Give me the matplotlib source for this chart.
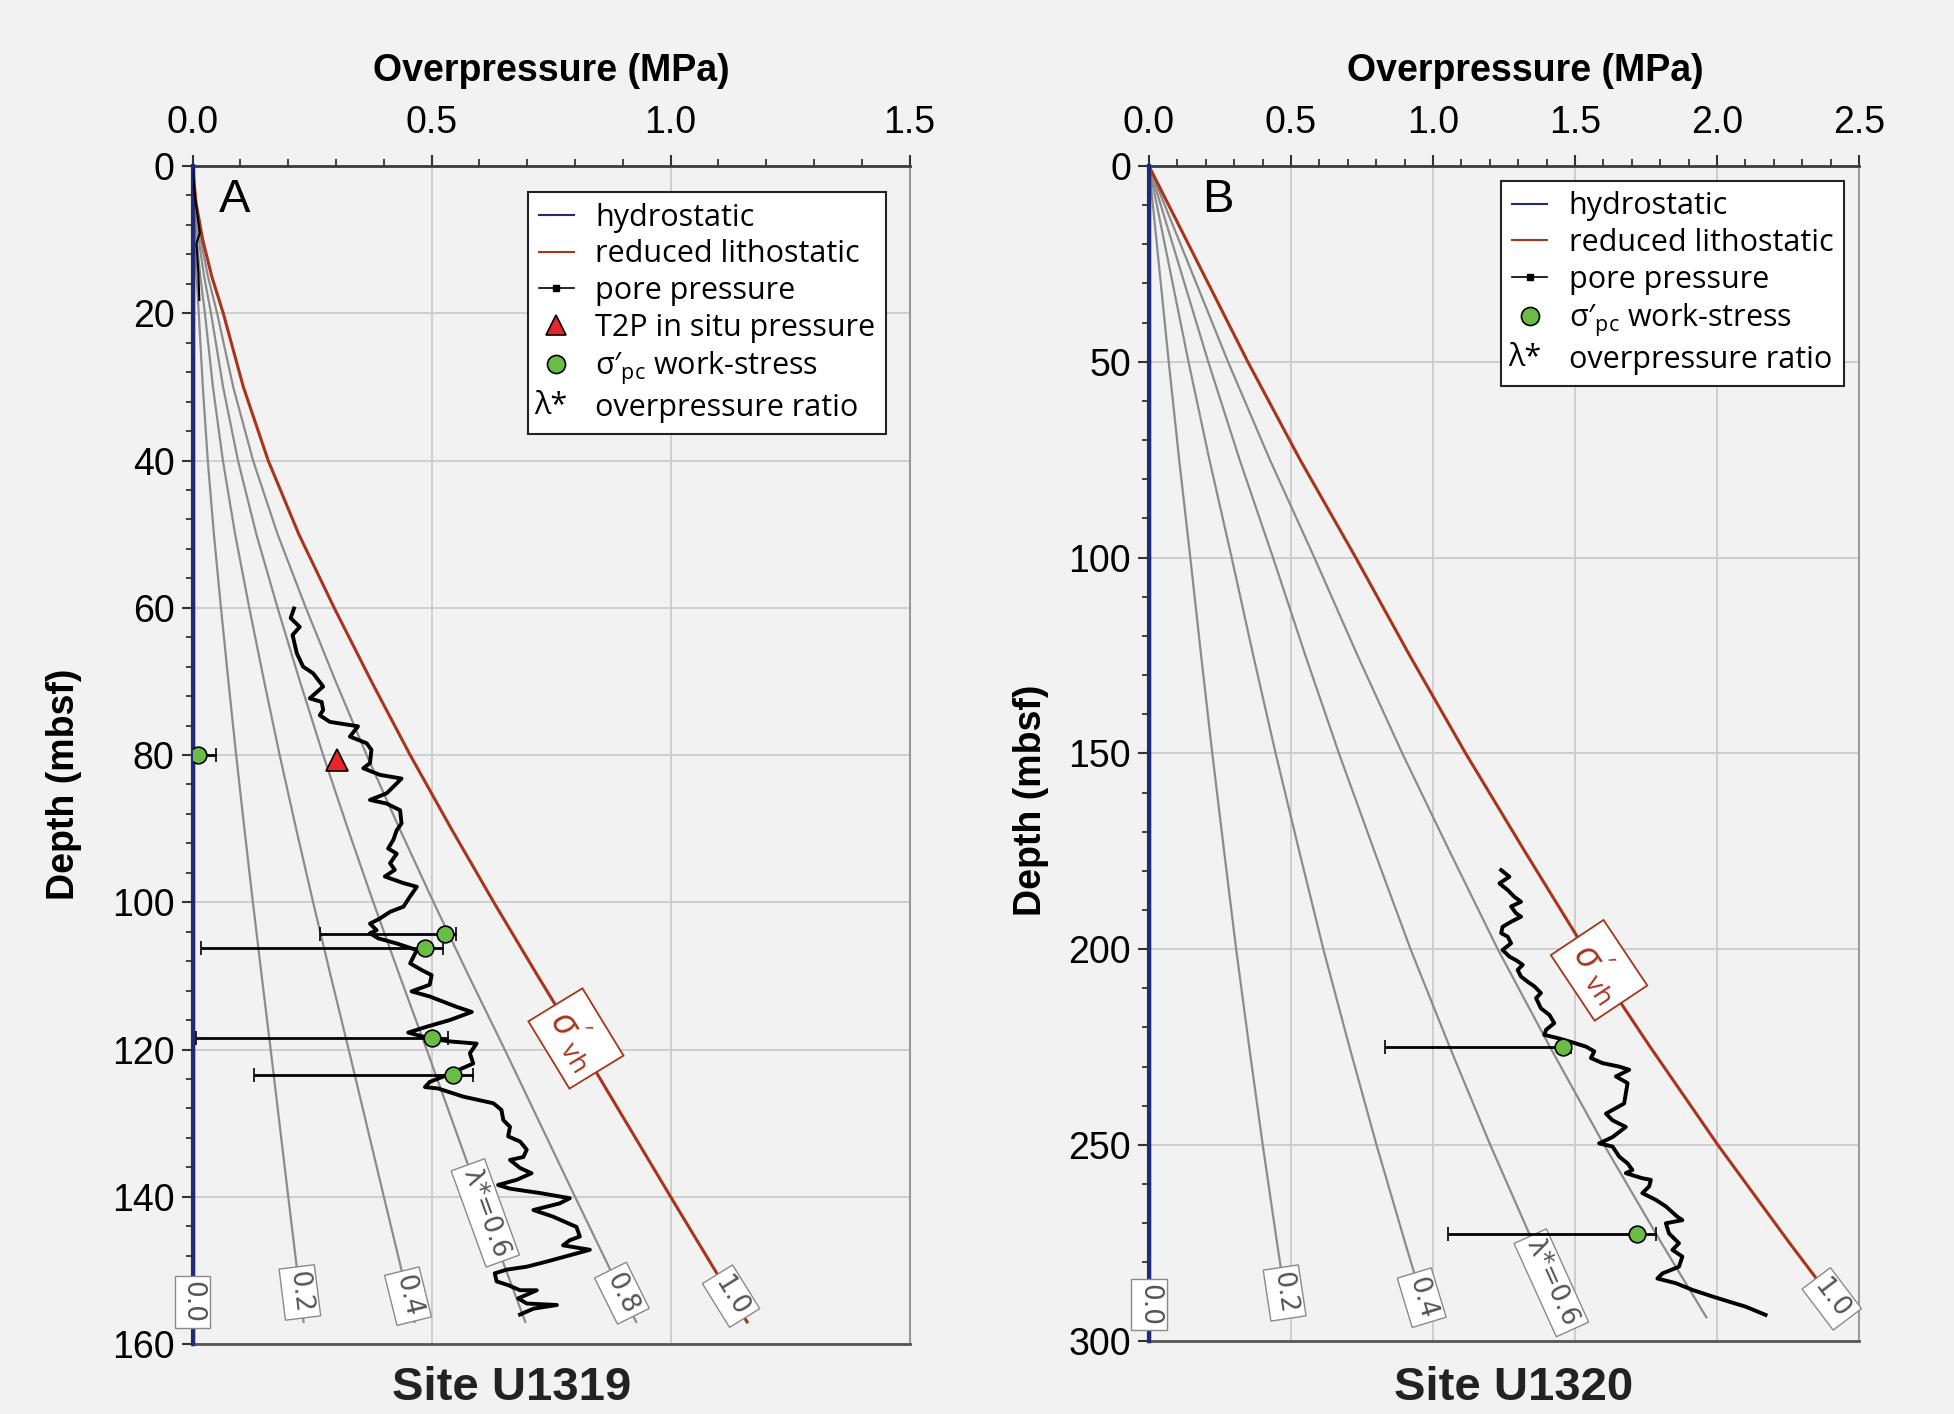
import numpy as np
import matplotlib
matplotlib.use("Agg")
import matplotlib.pyplot as plt
from matplotlib.lines import Line2D
from matplotlib.legend_handler import HandlerBase
from matplotlib.text import Text
from matplotlib.ticker import MultipleLocator, FormatStrFormatter

plt.rcParams['font.family'] = ['Liberation Sans', 'DejaVu Sans']
plt.rcParams['mathtext.fontset'] = 'custom'
plt.rcParams['mathtext.rm'] = 'Open Sans'
plt.rcParams['mathtext.it'] = 'Open Sans:italic'

# ---- Site U1319 (panel A) ----
litho_a_depth = [0, 5, 10, 15, 20, 30, 40, 50, 60, 70, 80, 90, 100, 110, 120, 130, 140, 150, 157]
litho_a_op = [0, 0.007, 0.021, 0.04, 0.064, 0.106, 0.158, 0.222, 0.296, 0.374, 0.455, 0.541,
              0.630, 0.722, 0.816, 0.908, 1.000, 1.093, 1.160]

pp_a0_depth = [0.5, 4.2, 9.1, 10.5, 14.6, 18.2]
pp_a0_op = [0.0, 0.005, 0.015, 0.008, 0.012, 0.014]

pp_a_depth = [60.1, 61.4, 62.6, 63.7, 66.2, 68.0, 68.9, 70.7, 72.3, 72.8,
              73.9, 74.6, 75.5, 75.9, 76.1, 77.5, 78.4, 79.3, 81.1, 81.8,
              82.7, 83.2, 84.3, 85.2, 86.1, 86.6, 87.5, 89.3, 90.2, 91.5,
              92.7, 93.4, 94.7, 95.6, 96.5, 97.4, 97.9, 99.2, 100.6, 101.3,
              102.2, 102.9, 103.8, 104.2, 104.9, 105.6, 106.5, 108.3, 109.2, 109.9,
              111.2, 112.1, 112.8, 114.2, 114.9, 116.0, 116.9, 117.7, 118.5, 118.9,
              119.2, 120.5, 121.9, 123.5, 124.4, 125.1, 125.3, 126.4, 127.3, 128.2,
              129.6, 130.5, 131.8, 132.5, 133.6, 134.6, 135.0, 136.1, 136.8, 137.7,
              138.4, 138.9, 139.5, 140.2, 140.9, 141.8, 142.7, 144.1, 145.4, 145.9,
              146.6, 147.2, 147.7, 148.8, 149.5, 149.9, 150.4, 151.5, 152.0, 152.7,
              152.7, 153.3, 153.8, 154.5, 154.7, 155.2, 156.0]
pp_a_op = [0.212, 0.205, 0.224, 0.209, 0.218, 0.231, 0.252, 0.273, 0.245, 0.270,
           0.273, 0.266, 0.287, 0.326, 0.346, 0.329, 0.364, 0.374, 0.371, 0.357,
           0.392, 0.437, 0.420, 0.406, 0.371, 0.406, 0.434, 0.437, 0.427, 0.420,
           0.409, 0.427, 0.413, 0.423, 0.402, 0.441, 0.469, 0.455, 0.441, 0.413,
           0.392, 0.371, 0.385, 0.371, 0.388, 0.427, 0.469, 0.455, 0.479, 0.500,
           0.496, 0.458, 0.496, 0.552, 0.584, 0.538, 0.490, 0.451, 0.496, 0.538,
           0.594, 0.580, 0.587, 0.531, 0.496, 0.486, 0.514, 0.566, 0.629, 0.646,
           0.650, 0.664, 0.660, 0.685, 0.699, 0.692, 0.664, 0.685, 0.709, 0.678,
           0.639, 0.664, 0.727, 0.789, 0.768, 0.713, 0.754, 0.803, 0.810, 0.789,
           0.775, 0.831, 0.803, 0.741, 0.699, 0.657, 0.632, 0.636, 0.660, 0.685,
           0.720, 0.699, 0.681, 0.699, 0.762, 0.713, 0.685]

ws_a_depth = [80.0, 104.3, 106.2, 118.5, 123.5]
ws_a_op = [0.011, 0.528, 0.486, 0.500, 0.545]
ws_a_min = [0.0, 0.266, 0.017, 0.006, 0.128]
ws_a_max = [0.048, 0.552, 0.523, 0.535, 0.586]

t2p_depth = [80.7]
t2p_op = [0.3025]

# ---- Site U1320 (panel B) ----
litho_b_depth = [0, 25, 50, 75, 100, 125, 150, 175, 200, 225, 250, 275, 294]
litho_b_op = [0, 0.174, 0.348, 0.532, 0.728, 0.918, 1.115, 1.323, 1.535, 1.765, 2.003, 2.255, 2.453]

pp_b_depth = [179.8, 181.5, 183.2, 184.9, 186.6, 187.9, 189.1, 190.8, 191.7, 193.0,
              194.3, 195.9, 196.8, 198.5, 200.2, 201.9, 202.8, 204.0, 205.3, 207.0,
              208.3, 209.5, 211.2, 212.5, 215.1, 216.8, 218.9, 220.6, 221.9, 222.7,
              223.8, 224.9, 226.1, 227.8, 229.1, 230.0, 230.8, 232.5, 234.2, 236.8,
              239.4, 242.0, 243.7, 245.4, 248.0, 249.6, 250.4, 253.0, 254.7, 256.4,
              257.2, 258.5, 258.9, 260.6, 262.3, 264.0, 265.7, 268.3, 269.2, 270.0,
              272.6, 275.1, 276.8, 278.5, 281.1, 282.8, 284.1, 285.3, 287.0, 288.7,
              290.0, 291.3, 293.4]
pp_b_op = [1.240, 1.269, 1.234, 1.263, 1.286, 1.310, 1.275, 1.292, 1.310, 1.275,
           1.245, 1.240, 1.263, 1.275, 1.245, 1.269, 1.292, 1.316, 1.298, 1.310,
           1.333, 1.357, 1.380, 1.363, 1.380, 1.410, 1.427, 1.398, 1.392, 1.439,
           1.491, 1.539, 1.568, 1.556, 1.597, 1.656, 1.691, 1.644, 1.685, 1.679,
           1.673, 1.609, 1.632, 1.679, 1.632, 1.585, 1.632, 1.656, 1.685, 1.702,
           1.679, 1.737, 1.767, 1.761, 1.737, 1.784, 1.820, 1.860, 1.878, 1.820,
           1.831, 1.866, 1.843, 1.878, 1.866, 1.808, 1.790, 1.855, 1.913, 1.984,
           2.042, 2.101, 2.171]

ws_b_depth = [225.0, 272.7]
ws_b_op = [1.456, 1.720]
ws_b_min = [0.830, 1.054]
ws_b_max = [1.486, 1.785]

lambda_ratios = [0.2, 0.4, 0.6, 0.8]
# depth at which each ratio label sits (0.0 ... 1.0)
label_ratios_a = [0.0, 0.2, 0.4, 0.6, 0.8, 1.0]
label_depths_a = [154.3, 153.0, 153.5, 142.2, 153.1, 153.5]
label_ratios_b = [0.0, 0.2, 0.4, 0.6, 1.0]
label_depths_b = [290.8, 287.8, 289.0, 285.2, 289.3]
svh_depth_a = 118.5
svh_depth_b = 205.4

RED = '#a8341c'
NAVY = '#1f2a78'
GREEN = '#69bd45'
GRAY = '#8c8c8c'
BG = '#f2f2f2'
NARROW = ['Liberation Sans Narrow', 'Liberation Sans', 'DejaVu Sans']
LEGFONT = ['Open Sans', 'DejaVu Sans']


class LambdaKey:
    pass


class LambdaHandler(HandlerBase):
    def create_artists(self, legend, orig_handle, xdescent, ydescent, width, height, fontsize, trans):
        t = Text(-xdescent - 3, -ydescent + height / 2, 'λ*', fontsize=fontsize, va='center',
                 ha='left', family=LEGFONT, transform=trans)
        return [t]


fig = plt.figure(figsize=(19.54, 14.14), dpi=100)
fig.patch.set_facecolor(BG)
ax_a = fig.add_axes([0.0986, 0.0495, 0.3669, 0.8331])
ax_b = fig.add_axes([0.5880, 0.0518, 0.3634, 0.8308])


def setup(ax, xmax, ymax, yminor):
    ax.set_facecolor(BG)
    ax.set_xlim(0, xmax)
    ax.set_ylim(ymax, 0)
    ax.xaxis.tick_top()
    ax.xaxis.set_label_position('top')
    ax.xaxis.set_major_locator(MultipleLocator(0.5))
    ax.xaxis.set_minor_locator(MultipleLocator(0.1))
    ax.xaxis.set_major_formatter(FormatStrFormatter('%.1f'))
    ax.yaxis.set_minor_locator(MultipleLocator(yminor))
    ax.tick_params(axis='x', which='major', length=8, width=1.5, pad=10, labelsize=27, colors='#333333')
    ax.tick_params(axis='x', which='minor', length=5, width=1.3, colors='#333333')
    ax.tick_params(axis='y', which='major', length=8, width=1.5, pad=5, labelsize=27, colors='#333333')
    ax.tick_params(axis='y', which='minor', length=5, width=1.3, colors='#333333')
    ax.grid(True, which='major', color='#cdcdcd', lw=1.4)
    ax.set_axisbelow(True)
    ax.spines['top'].set_color('#3a3a3a')
    ax.spines['top'].set_linewidth(2)
    ax.spines['bottom'].set_color('#555555')
    ax.spines['bottom'].set_linewidth(2)
    ax.spines['right'].set_color('#9a9a9a')
    ax.spines['right'].set_linewidth(1.5)
    ax.spines['left'].set_color(NAVY)
    ax.spines['left'].set_linewidth(2.5)
    ax.set_xlabel('Overpressure (MPa)', fontsize=27, fontweight='bold')
    ax.set_ylabel('Depth (mbsf)', fontsize=27, fontweight='bold')


def line_angle(ax, xs, ds, d):
    x1 = np.interp(d - 1, ds, xs)
    x2 = np.interp(d + 1, ds, xs)
    p1 = ax.transData.transform((x1, d - 1))
    p2 = ax.transData.transform((x2, d + 1))
    return np.degrees(np.arctan2(p2[1] - p1[1], p2[0] - p1[0]))


def draw_panel(ax, litho_d, litho_x, ratios, lab_depths, svh_d, ymax):
    litho_d = np.array(litho_d)
    litho_x = np.array(litho_x)
    for r in lambda_ratios:
        ax.plot(litho_x * r, litho_d, color=GRAY, lw=1.6, zorder=2)
    ax.plot(litho_x, litho_d, color=RED, lw=2.2, zorder=3)
    ax.plot([0, 0], [0, ymax], color=NAVY, lw=3, zorder=3, clip_on=False)
    for r, d in zip(ratios, lab_depths):
        x = np.interp(d, litho_d, litho_x) * r
        if r == 0:
            ang = -90
        else:
            ang = line_angle(ax, litho_x * r, litho_d, d)
        txt = 'λ*=0.6' if abs(r - 0.6) < 1e-9 else '%.1f' % r
        ax.text(x, d, txt, rotation=ang, rotation_mode='anchor', ha='center', va='center',
                fontsize=19, color='#555555', family=['DejaVu Sans'], zorder=6,
                bbox=dict(boxstyle='square,pad=0.18', fc='white', ec='#8a8a8a', lw=1.0))
    x = np.interp(svh_d, litho_d, litho_x)
    ang = line_angle(ax, litho_x, litho_d, svh_d)
    ax.text(x, svh_d, r"$\sigma'_{\mathrm{vh}}$", rotation=ang, rotation_mode='anchor',
            ha='center', va='center', fontsize=27, color=RED, zorder=6,
            bbox=dict(boxstyle='square,pad=0.25', fc='white', ec=RED, lw=1.3))


def work_stress(ax, xs, ds, xmin, xmax):
    xs = np.array(xs)
    err = [xs - np.array(xmin), np.array(xmax) - xs]
    ax.errorbar(xs, ds, xerr=err, fmt='o', ms=12, mfc=GREEN, mec='black', mew=1.2,
                ecolor='black', elinewidth=2, capsize=5, capthick=2, zorder=7)


# ---- panel A ----
setup(ax_a, 1.5, 160, 4)
ax_a.yaxis.set_major_locator(MultipleLocator(20))
draw_panel(ax_a, litho_a_depth, litho_a_op, label_ratios_a, label_depths_a, svh_depth_a, 160)
ax_a.plot(pp_a0_op, pp_a0_depth, color='black', lw=1.5, zorder=4)
ax_a.plot(pp_a_op, pp_a_depth, color='black', lw=2.8, zorder=4)
ax_a.plot(t2p_op, t2p_depth, linestyle='none', marker='^', ms=16, mfc='#e8262a', mec='black',
          mew=1.2, zorder=7)
work_stress(ax_a, ws_a_op, ws_a_depth, ws_a_min, ws_a_max)
ax_a.xaxis.set_label_coords(0.5, 1.072)
ax_a.yaxis.set_label_coords(-0.154, 0.475)
ax_a.text(0.059, 0.971, 'A', transform=ax_a.transAxes, fontsize=34, ha='center', va='center')
ax_a.text(0.445, -0.037, 'Site U1319', transform=ax_a.transAxes, fontsize=34,
          fontweight='bold', ha='center', va='center', color='#222222')

# ---- panel B ----
setup(ax_b, 2.5, 300, 10)
ax_b.yaxis.set_major_locator(MultipleLocator(50))
draw_panel(ax_b, litho_b_depth, litho_b_op, label_ratios_b, label_depths_b, svh_depth_b, 300)
ax_b.plot(pp_b_op, pp_b_depth, color='black', lw=2.8, zorder=4)
work_stress(ax_b, ws_b_op, ws_b_depth, ws_b_min, ws_b_max)
ax_b.xaxis.set_label_coords(0.53, 1.072)
ax_b.yaxis.set_label_coords(-0.141, 0.46)
ax_b.text(0.0965, 0.971, 'B', transform=ax_b.transAxes, fontsize=34, ha='center', va='center')
ax_b.text(0.514, -0.040, 'Site U1320', transform=ax_b.transAxes, fontsize=34,
          fontweight='bold', ha='center', va='center', color='#222222')

for ax in (ax_a, ax_b):
    for lbl in ax.get_xticklabels() + ax.get_yticklabels():
        lbl.set_family(NARROW)
        lbl.set_color('black')

# ---- legends ----
h_hyd = Line2D([], [], color=NAVY, lw=1.5)
h_lit = Line2D([], [], color=RED, lw=1.5)
h_pp = Line2D([], [], color='black', lw=1.2, marker='s', ms=4)
h_t2p = Line2D([], [], linestyle='none', marker='^', ms=14, mfc='#e8262a', mec='black', mew=1.2)
h_ws = Line2D([], [], linestyle='none', marker='o', ms=13, mfc=GREEN, mec='black', mew=1.2)
sig_lbl = r"σ′$_{\mathrm{pc}}$ work-stress"

leg_kw = dict(prop={'family': LEGFONT, 'size': 22}, frameon=True, fancybox=False,
              framealpha=1, facecolor='white', edgecolor='#222222', handlelength=1.15,
              handletextpad=0.7, labelspacing=0.22, borderpad=0.35, borderaxespad=0,
              handler_map={LambdaKey: LambdaHandler()})
leg = ax_a.legend([h_hyd, h_lit, h_pp, h_t2p, h_ws, LambdaKey()],
                  ['hydrostatic', 'reduced lithostatic', 'pore pressure', 'T2P in situ pressure',
                   sig_lbl, 'overpressure ratio'],
                  loc='upper right', bbox_to_anchor=(0.967, 0.978), **leg_kw)
leg.get_frame().set_linewidth(1.5)
leg = ax_b.legend([h_hyd, h_lit, h_pp, h_ws, LambdaKey()],
                  ['hydrostatic', 'reduced lithostatic', 'pore pressure', sig_lbl, 'overpressure ratio'],
                  loc='upper right', bbox_to_anchor=(0.979, 0.9875), **leg_kw)
leg.get_frame().set_linewidth(1.5)

fig.savefig('out.png', dpi=100, facecolor=BG)
